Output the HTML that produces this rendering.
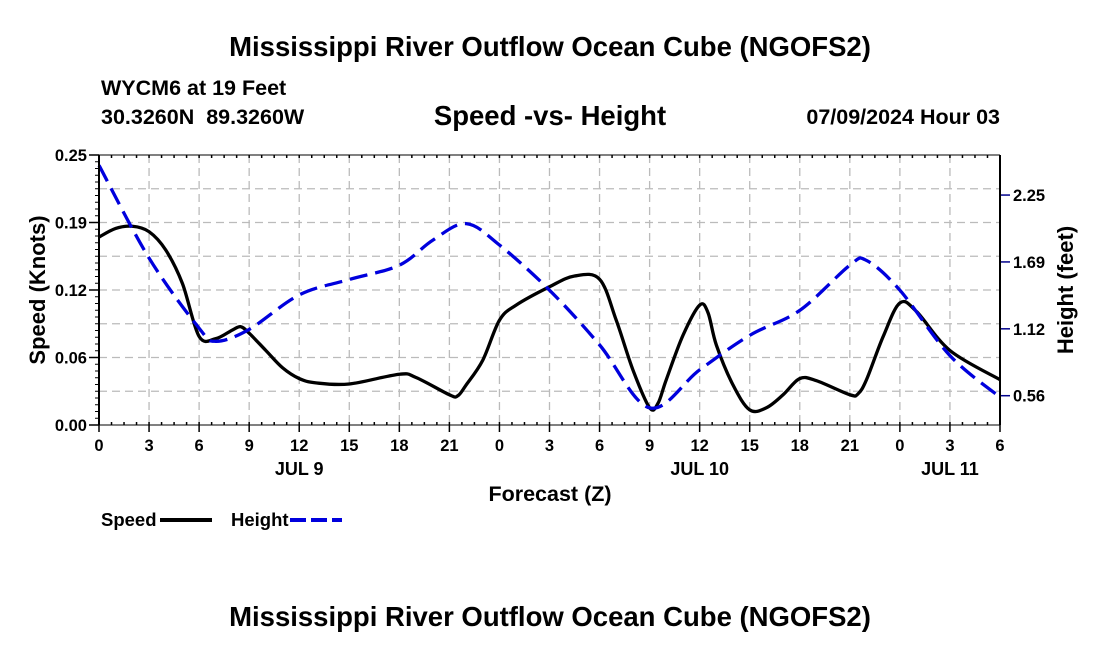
<!DOCTYPE html>
<html><head><meta charset="utf-8"><style>
body{margin:0;background:#fff;width:1100px;height:650px;overflow:hidden;font-family:"Liberation Sans",sans-serif}
</style></head><body>
<svg width="1100" height="650" viewBox="0 0 1100 650" xmlns="http://www.w3.org/2000/svg" font-family="Liberation Sans, sans-serif" font-weight="bold">
<text x="550" y="56" font-size="27.5" text-anchor="middle">Mississippi River Outflow Ocean Cube (NGOFS2)</text>
<text x="101" y="95" font-size="21.5">WYCM6 at 19 Feet</text>
<text x="101" y="124" font-size="21.5" xml:space="preserve" style="white-space:pre">30.3260N  89.3260W</text>
<text x="550" y="125" font-size="27.5" text-anchor="middle">Speed -vs- Height</text>
<text x="1000" y="124" font-size="21.5" text-anchor="end">07/09/2024 Hour 03</text>
<g id="grid"></g>
<g id="series"></g>
<g id="axes"></g>
<text transform="translate(45,290) rotate(-90)" font-size="22" text-anchor="middle">Speed (Knots)</text>
<text transform="translate(1073,290) rotate(-90)" font-size="22" text-anchor="middle">Height (feet)</text>
<text x="550" y="501" font-size="21.5" text-anchor="middle">Forecast (Z)</text>
<g>
<text x="101" y="526" font-size="18.5">Speed</text>
<line x1="160" y1="520" x2="212" y2="520" stroke="#000" stroke-width="4"/>
<text x="231" y="526" font-size="18.5">Height</text>
<line x1="290" y1="520" x2="342" y2="520" stroke="#0000dd" stroke-width="4" stroke-dasharray="16,5"/>
</g>
<text x="550" y="626" font-size="27.5" text-anchor="middle">Mississippi River Outflow Ocean Cube (NGOFS2)</text>
</svg>
<script>
const speedHours=[0,1,2,3,4,5,6,7,8,8.5,9,10,11,12,13,15,18,19,21,21.5,22,23,24,25,27,28.5,30,31,32,33,33.5,34,35,36,36.5,37,38,39,40,41,42,43,45,45.5,46,47,48,49,51,54];
const speedValues=[0.174,0.182,0.184,0.179,0.162,0.131,0.082,0.080,0.088,0.091,0.085,0.069,0.053,0.043,0.039,0.038,0.047,0.044,0.028,0.027,0.037,0.060,0.097,0.111,0.128,0.138,0.135,0.097,0.051,0.016,0.020,0.042,0.083,0.111,0.104,0.074,0.037,0.014,0.016,0.028,0.043,0.041,0.028,0.029,0.042,0.082,0.113,0.105,0.069,0.042];
const heightHours=[0,3,6,7,9,12,15,18,20,22,24,27,30,33,36,39,42,45,46,48,51,54];
const heightValues=[2.50,1.72,1.13,1.02,1.12,1.41,1.54,1.66,1.87,2.01,1.83,1.45,0.99,0.46,0.78,1.07,1.28,1.66,1.70,1.45,0.90,0.55];
const xTickHours=[0,3,6,9,12,15,18,21,24,27,30,33,36,39,42,45,48,51,54];
const xTickLabels=["0","3","6","9","12","15","18","21","0","3","6","9","12","15","18","21","0","3","6"];
const dayHours=[12,36,51];
const dayLabels=["JUL 9","JUL 10","JUL 11"];
const speedTicks=[0,0.0625,0.125,0.1875,0.25];
const speedTickLabels=["0.00","0.06","0.12","0.19","0.25"];
const heightTicks=[0.5625,1.125,1.6875,2.25];
const heightTickLabels=["0.56","1.12","1.69","2.25"];

const L=99,R=1000,T=155,B=425;
const x=h=>L+(h/54)*(R-L);
const yS=v=>B-(v/0.25)*(B-T);
const yH=v=>395.7-(v-0.5625)*118.9;
const NS="http://www.w3.org/2000/svg";
function mk(tag,attrs,parent){const e=document.createElementNS(NS,tag);for(const k in attrs)e.setAttribute(k,attrs[k]);parent.appendChild(e);return e;}
const grid=document.getElementById('grid'),axes=document.getElementById('axes'),series=document.getElementById('series');
for(let i=1;i<8;i++){const yy=T+i*(B-T)/8;
 const g=mk('line',{x1:L,x2:R,y1:yy,y2:yy,stroke:'#bbb','stroke-width':1.3,'stroke-dasharray':'8,5'},grid);
 
 }
xTickHours.forEach((h,i)=>{
 if(h>0&&h<54){const g=mk('line',{x1:x(h),x2:x(h),y1:T,y2:B,stroke:'#bbb','stroke-width':1.3,'stroke-dasharray':'8,5'},grid);
 
 }
 const t=mk('text',{x:x(h),y:451,'font-size':16.5,'text-anchor':'middle'},axes);t.textContent=xTickLabels[i];
 
 
 mk('line',{x1:x(h),x2:x(h),y1:B,y2:B+7,stroke:'#000','stroke-width':1.5},axes);
});
dayHours.forEach((h,i)=>{const t=mk('text',{x:x(h),y:475,'font-size':18,'text-anchor':'middle'},axes);t.textContent=dayLabels[i];
 
 });
for(let h=0;h<=54;h+=0.75){mk('line',{x1:x(h),x2:x(h),y1:T,y2:T+3,stroke:'#000','stroke-width':1.5},axes);mk('line',{x1:x(h),x2:x(h),y1:B,y2:B-3,stroke:'#000','stroke-width':1.5},axes);}
for(let i=0;i<=40;i++){const yy=T+i*(B-T)/40;mk('line',{x1:L-4,x2:L,y1:yy,y2:yy,stroke:'#000','stroke-width':1},axes);}
speedTicks.forEach((v,i)=>{mk('line',{x1:L-10,x2:L,y1:yS(v),y2:yS(v),stroke:'#000','stroke-width':1.5},axes);
 const t=mk('text',{x:L-12,y:yS(v)+6,'font-size':16.5,'text-anchor':'end'},axes);t.textContent=speedTickLabels[i];
 
 });
heightTicks.forEach((v,i)=>{mk('line',{x1:R,x2:R+10,y1:yH(v),y2:yH(v),stroke:'#00008b','stroke-width':1.5},axes);
 const t=mk('text',{x:R+13,y:yH(v)+6,'font-size':16.5},axes);t.textContent=heightTickLabels[i];
 
 });
mk('line',{x1:L,x2:L,y1:T,y2:B,stroke:'#000','stroke-width':2},axes);
mk('line',{x1:R,x2:R,y1:T,y2:B,stroke:'#000','stroke-width':2},axes);
mk('line',{x1:L,x2:R,y1:T,y2:T,stroke:'#000','stroke-width':1},axes);
mk('line',{x1:L,x2:R,y1:B,y2:B,stroke:'#000','stroke-width':1},axes);
function smooth(pts){let d=`M${pts[0][0]},${pts[0][1]}`;
 for(let i=0;i<pts.length-1;i++){const p0=pts[i-1]||pts[i],p1=pts[i],p2=pts[i+1],p3=pts[i+2]||p2;
  const c1=[p1[0]+(p2[0]-p0[0])/6,p1[1]+(p2[1]-p0[1])/6],c2=[p2[0]-(p3[0]-p1[0])/6,p2[1]-(p3[1]-p1[1])/6];
  d+=` C${c1[0]},${c1[1]} ${c2[0]},${c2[1]} ${p2[0]},${p2[1]}`;}return d;}
const sp=mk('path',{d:smooth(speedHours.map((h,i)=>[x(h),yS(speedValues[i])])),fill:'none',stroke:'#000','stroke-width':3.3},series);


const hp=mk('path',{d:smooth(heightHours.map((h,i)=>[x(h),yH(heightValues[i])])),fill:'none',stroke:'#0000dd','stroke-width':3.3,'stroke-dasharray':'18,8'},series);


</script>
</body></html>
